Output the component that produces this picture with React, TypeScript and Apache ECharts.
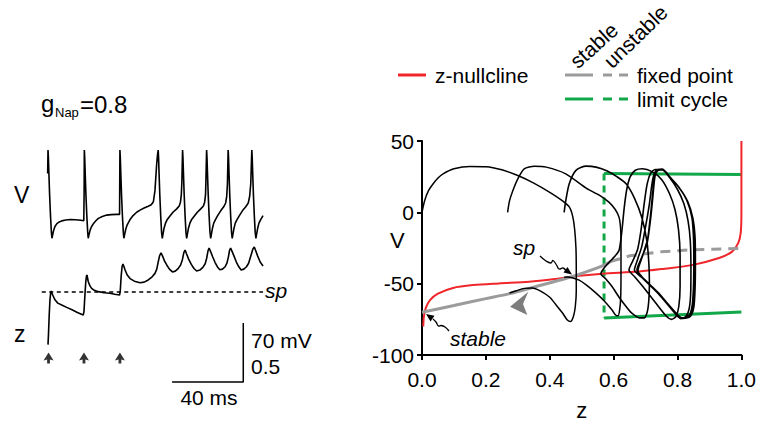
import React, { useEffect, useRef } from "react";
import * as echarts from "echarts";

const FONT = "'Liberation Sans', Arial, Helvetica, sans-serif";

// ---------- Left panel: time courses (t in ms) ----------
const vTrace: number[][] = [
  [4.3, 0], [4.5, 28], [4.7, 20], [5.0, 0], [5.4, -25], [5.9, -50], [6.4, -70], [6.7, -77], [7.0, -74], [7.6, -68], [8.4, -63], [9.5, -59.5], [10.8, -57.5], [12.2, -56.3], [14.5, -55.2], [17, -54.6], [20, -54.9], [23, -55.6], [24.6, -56.2],
  [24.8, -20], [24.9, 28], [25.1, 20], [25.4, 0], [25.8, -25], [26.3, -50], [26.8, -70], [27.1, -77], [27.5, -73], [28.2, -67], [29.0, -63], [30.2, -59], [31.5, -55.8], [32.8, -53.3], [35, -51], [37.5, -49.4], [40, -48.8], [43, -48.5], [44.7, -48.5],
  [44.9, 28], [45.1, 20], [45.4, 0], [45.8, -25], [46.3, -50], [46.8, -70], [47.1, -77], [47.5, -73], [48.2, -66], [49.0, -61], [50.5, -55], [52.3, -50], [54.3, -46], [56.2, -43.5], [58.5, -41], [60.8, -38.8], [62.5, -37], [63.7, -33.5], [64.6, -20], [65.5, 10], [66.0, 22], [66.4, 28],
  [66.6, 20], [66.9, 0], [67.3, -25], [67.8, -50], [68.3, -70], [68.7, -77], [69.1, -72], [69.7, -65], [70.5, -59], [71.4, -55], [72.8, -51], [74.7, -46], [76.8, -42], [78.2, -38.5], [78.9, -34], [79.4, -25], [79.7, -10], [79.9, 10], [80.1, 28],
  [80.3, 20], [80.6, 0], [81.0, -25], [81.5, -50], [82.0, -70], [82.4, -77], [82.8, -72], [83.4, -65], [84.2, -59], [85.1, -55], [86.5, -51], [88.4, -46], [90.3, -42], [91.8, -38.5], [92.5, -34], [93.0, -25], [93.2, -10], [93.4, 10], [93.6, 28],
  [93.8, 20], [94.1, 0], [94.5, -25], [95.0, -50], [95.5, -70], [95.9, -77], [96.3, -72], [96.9, -65], [97.6, -59], [98.5, -55], [99.8, -50], [101.6, -44], [103.2, -39.5], [104.3, -35], [104.9, -27], [105.3, -12], [105.5, 8], [105.7, 28],
  [105.9, 20], [106.2, 0], [106.6, -25], [107.1, -50], [107.6, -70], [108.0, -77], [108.4, -72], [109.0, -65], [109.7, -59], [110.6, -55], [112.0, -50], [113.8, -44], [115.6, -39.5], [117.0, -35], [117.8, -27], [118.4, -12], [118.7, 8], [119.0, 28],
  [119.2, 20], [119.5, 0], [119.9, -25], [120.4, -50], [120.9, -70], [121.3, -77], [121.7, -72], [122.3, -65], [123.0, -59], [123.9, -55], [125.3, -50],
];

const zTrace: number[][] = [
  [4.5, 0.02], [4.8, 0.12], [5.2, 0.28], [5.6, 0.4], [6.0, 0.46], [6.3, 0.475], [7.0, 0.445], [8.4, 0.4], [10, 0.372], [12.2, 0.356], [15, 0.336], [18, 0.315], [21, 0.293], [24.3, 0.271],
  [24.7, 0.3], [25.2, 0.43], [25.7, 0.55], [26.1, 0.6], [26.4, 0.61], [27.1, 0.555], [28, 0.52], [29, 0.497], [30.5, 0.48], [32.8, 0.469], [36, 0.46], [39.3, 0.455], [42, 0.447], [44.7, 0.44],
  [45.1, 0.48], [45.6, 0.6], [46.1, 0.68], [46.6, 0.703], [47.2, 0.68], [47.8, 0.653], [49, 0.61], [50.6, 0.58], [53, 0.558], [56.2, 0.545], [58.5, 0.55], [60.8, 0.568], [63, 0.595], [64.6, 0.624], [65.6, 0.66], [66.4, 0.72], [67.2, 0.775], [68.0, 0.797],
  [68.8, 0.772], [70, 0.728], [71.2, 0.695], [72.7, 0.66], [74.4, 0.636], [76, 0.643], [77.6, 0.664], [79, 0.695], [80.0, 0.74], [80.8, 0.8], [81.5, 0.822],
  [82.3, 0.79], [83.5, 0.745], [85, 0.7], [86.5, 0.665], [88, 0.644], [89.8, 0.652], [91.5, 0.675], [92.8, 0.705], [93.6, 0.75], [94.4, 0.815], [95.0, 0.839],
  [95.8, 0.81], [97, 0.765], [98.3, 0.718], [99.7, 0.678], [101, 0.655], [102.5, 0.66], [104, 0.68], [105, 0.71], [105.8, 0.76], [106.5, 0.82], [107.1, 0.839],
  [107.9, 0.81], [109, 0.77], [110.3, 0.72], [111.7, 0.68], [113, 0.653], [114.5, 0.66], [116, 0.68], [117.2, 0.71], [118.2, 0.76], [119.6, 0.83], [120.4, 0.847],
  [121.2, 0.815], [122.3, 0.77], [123.7, 0.72], [125.3, 0.686],
];

const spLevel = 0.466;
const spRange = [1, 125.3];
const stimTimes = [4.8, 24.7, 44.9];
const stimMarkerZ = -0.093;
const scaleBarMs = [74.2, 114.2];
const scaleBarZ = [-0.297, 0.203];

// ---------- Right panel: phase plane (z, V) ----------
const zTickLabels = ["0.0", "0.2", "0.4", "0.6", "0.8", "1.0"];
const vTicks = [-100, -50, 0, 50];

const zNullcline: number[][] = [
  [0.004, -80], [0.006, -73], [0.012, -67], [0.025, -61.5], [0.05, -57], [0.097, -53], [0.16, -51], [0.24, -49.8], [0.336, -48.6], [0.43, -46.3], [0.492, -44.5], [0.564, -43], [0.68, -41.5], [0.76, -39.5], [0.845, -37], [0.93, -32], [0.97, -27.7], [0.99, -21.6], [0.998, -14], [1.0, 0], [1.0, 50],
];

const fixedStable: number[][] = [
  [0, -70], [0.1, -65.3], [0.2, -60.5], [0.274, -57], [0.36, -51.8], [0.45, -46.4], [0.5, -42.8], [0.555, -38.4], [0.59, -34.5],
];
const fixedUnstable: number[][] = [
  [0.59, -34.5], [0.65, -30.5], [0.75, -27.6], [0.85, -26.2], [1.0, -25.3],
];

const cycleTop: number[][] = [[0.57, 27.2], [1.0, 26.5]];
const cycleBottom: number[][] = [[0.57, -74], [1.0, -69.8]];
const cycleUnstable: number[][] = [[0.57, 27.2], [0.57, -74]];

const traj1: number[][] = [
  [0, 0], [0.008, 8], [0.02, 15], [0.035, 20], [0.05, 24], [0.066, 27], [0.1, 30.5], [0.15, 32.2], [0.2, 32], [0.25, 29.8], [0.3, 25.8], [0.35, 20.5], [0.4, 14], [0.44, 8], [0.462, 3.5], [0.472, -3], [0.478, -12], [0.482, -25], [0.483, -40], [0.483, -55], [0.48, -66], [0.474, -73], [0.465, -76.5], [0.455, -75.5], [0.44, -70.6], [0.42, -65], [0.4, -59.5], [0.37, -55], [0.345, -53], [0.32, -53.3], [0.295, -55], [0.274, -56.5],
];
const traj2: number[][] = [
  [0.268, 0], [0.274, 8], [0.284, 15], [0.3, 23.5], [0.32, 30.5], [0.352, 32.3], [0.389, 31.7], [0.45, 27], [0.514, 17], [0.555, 12], [0.586, 7], [0.605, 2], [0.617, -3.5], [0.622, -12], [0.623, -24], [0.623, -45], [0.622, -60], [0.619, -68], [0.614, -72.5], [0.606, -72], [0.595, -68.5], [0.57, -62], [0.545, -56.6], [0.515, -51], [0.492, -47.5], [0.47, -45.8], [0.455, -45.4], [0.445, -45.5],
];
const traj3: number[][] = [
  [0.445, 0], [0.45, 8], [0.461, 20], [0.482, 29.4], [0.514, 32.4], [0.545, 31.7], [0.58, 29], [0.61, 25], [0.639, 20], [0.665, 10], [0.688, -3.5], [0.704, -20], [0.71, -35], [0.712, -50], [0.71, -62], [0.705, -70], [0.695, -74], [0.682, -74], [0.657, -70.6], [0.639, -66], [0.617, -59.5], [0.595, -52], [0.575, -46.5], [0.56, -43],
  [0.57, -39], [0.586, -35], [0.603, -31], [0.617, -26.6], [0.626, -12.6], [0.633, 3], [0.641, 16], [0.652, 25], [0.668, 29.5], [0.69, 30.5], [0.72, 28.5], [0.75, 23], [0.775, 13], [0.792, 2], [0.803, -12], [0.808, -30], [0.808, -52], [0.804, -66], [0.795, -73], [0.781, -75], [0.766, -73], [0.73, -63], [0.695, -53], [0.665, -45], [0.648, -40.5],
  [0.66, -34], [0.675, -26], [0.686, -12], [0.695, 5], [0.705, 20], [0.716, 27.5], [0.73, 30], [0.75, 30], [0.775, 24.5], [0.8, 16], [0.82, 6], [0.833, -6], [0.84, -20], [0.842, -40], [0.841, -58], [0.836, -68], [0.826, -73], [0.81, -74.5], [0.793, -71], [0.74, -57], [0.69, -46], [0.665, -40.5],
  [0.675, -33], [0.688, -24], [0.7, -10], [0.712, 6], [0.72, 20], [0.727, 27], [0.737, 30], [0.752, 30.3], [0.775, 25], [0.805, 17.5], [0.829, 8.5], [0.845, -3.5], [0.85, -17.5], [0.851, -35], [0.85, -52], [0.846, -65], [0.837, -72], [0.815, -74], [0.795, -71], [0.741, -56.6], [0.69, -45.5], [0.673, -40.5],
  [0.688, -31.5], [0.704, -22], [0.714, -5], [0.72, 8.4], [0.725, 20], [0.729, 26], [0.737, 29.8], [0.752, 30.2], [0.774, 25], [0.805, 17.3], [0.83, 8.2], [0.846, -3.5], [0.852, -17.5], [0.853, -35], [0.852, -52], [0.848, -66], [0.838, -72.5], [0.814, -74], [0.795, -70.8], [0.742, -57], [0.69, -45.8], [0.674, -40.8],
  [0.689, -31.3], [0.705, -21.5], [0.716, -4], [0.722, 9], [0.727, 21], [0.731, 26.5], [0.74, 29.5], [0.755, 29.8], [0.777, 24.5], [0.807, 16.8], [0.832, 7.5], [0.848, -4], [0.855, -18], [0.856, -36], [0.855, -53], [0.851, -66.5], [0.84, -73], [0.816, -74.3], [0.797, -71], [0.743, -57.3], [0.692, -46], [0.676, -41],
  [0.69, -31], [0.705, -20],
];

const RED = "#f0262a";
const GRAY = "#9b9b9b";
const GREEN = "#12a84a";

function txt(x: number, y: number, text: string, size: number, extra: any = {}) {
  return {
    type: "text",
    x,
    y,
    silent: true,
    ...(extra.el || {}),
    style: {
      text,
      fontSize: size,
      fontFamily: FONT,
      fill: "#000",
      align: "left",
      verticalAlign: "middle",
      ...(extra.style || {}),
    },
  };
}

function lineEl(x1: number, y1: number, x2: number, y2: number, stroke: string, dash?: number[]) {
  return {
    type: "line",
    silent: true,
    shape: { x1, y1, x2, y2 },
    style: { stroke, lineWidth: 3, lineDash: dash || null },
  };
}

export default function App() {
  const ref = useRef<HTMLDivElement>(null);

  useEffect(() => {
    if (!ref.current) return;
    const chart = echarts.init(ref.current, undefined, { renderer: "svg" });

    const baseLine = (data: number[][], color: string, width: number, axis: number, extra: any = {}) => ({
      type: "line",
      data,
      xAxisIndex: axis,
      yAxisIndex: axis,
      symbol: "none",
      silent: true,
      clip: false,
      lineStyle: { color, width, ...(extra.lineStyle || {}) },
      smooth: extra.smooth || false,
      z: extra.z || 2,
    });

    const option: any = {
      animation: false,
      backgroundColor: "#fff",
      textStyle: { fontFamily: FONT },
      grid: [
        { left: 422, top: 141, width: 321, height: 215 },
        { left: 40, top: 140, width: 231.4, height: 105 },
        { left: 40, top: 240.8, width: 231.4, height: 153.4 },
      ],
      xAxis: [
        {
          gridIndex: 0,
          type: "value",
          min: 0,
          max: 1,
          interval: 0.2,
          name: "z",
          nameLocation: "middle",
          nameGap: 44,
          nameTextStyle: { fontSize: 22, color: "#000", fontFamily: FONT },
          axisLine: { onZero: false, lineStyle: { color: "#000", width: 2 } },
          axisTick: { length: 5, lineStyle: { color: "#000", width: 2 } },
          axisLabel: {
            fontSize: 21,
            color: "#000",
            margin: 14,
            fontFamily: FONT,
            formatter: (v: number) => zTickLabels[Math.round(v / 0.2)] ?? "",
          },
          splitLine: { show: false },
        },
        { gridIndex: 1, type: "value", min: 0, max: 130, show: false },
        { gridIndex: 2, type: "value", min: 0, max: 130, show: false },
      ],
      yAxis: [
        {
          gridIndex: 0,
          type: "value",
          min: vTicks[0],
          max: vTicks[vTicks.length - 1],
          interval: 50,
          axisLine: { onZero: false, lineStyle: { color: "#000", width: 2 } },
          axisTick: { length: 5, lineStyle: { color: "#000", width: 2 } },
          axisLabel: { fontSize: 21, color: "#000", margin: 8, fontFamily: FONT },
          splitLine: { show: false },
        },
        { gridIndex: 1, type: "value", min: -85, max: 40, show: false },
        { gridIndex: 2, type: "value", min: -0.4, max: 0.9, show: false },
      ],
      series: [
        // left panel
        baseLine(vTrace, "#000", 1.6, 1),
        baseLine(zTrace, "#000", 1.6, 2),
        baseLine([[spRange[0], spLevel], [spRange[1], spLevel]], "#000", 1.5, 2, { lineStyle: { type: [4, 3.5] } }),
        baseLine(
          [[scaleBarMs[0], scaleBarZ[0]], [scaleBarMs[1], scaleBarZ[0]], [scaleBarMs[1], scaleBarZ[1]]],
          "#000",
          1.5,
          2
        ),
        {
          type: "scatter",
          xAxisIndex: 2,
          yAxisIndex: 2,
          silent: true,
          data: stimTimes.map((t) => [t, stimMarkerZ]),
          symbol: "path://M5,0L10,8L6.4,7L6.4,11L3.6,11L3.6,7L0,8Z",
          symbolSize: [10, 11],
          itemStyle: { color: "#000" },
        },
        // right panel
        baseLine(cycleTop, GREEN, 3, 0, { z: 2 }),
        baseLine(cycleBottom, GREEN, 3, 0, { z: 2 }),
        baseLine(cycleUnstable, GREEN, 3, 0, { z: 2, lineStyle: { type: [7, 5] } }),
        baseLine(zNullcline, RED, 2, 0, { z: 3, smooth: 0.3 }),
        baseLine(fixedStable, GRAY, 3, 0, { z: 3, smooth: 0.3 }),
        baseLine(fixedUnstable, GRAY, 3, 0, { z: 3, lineStyle: { type: [10, 7] } }),
        baseLine(traj1, "#000", 1.5, 0, { z: 4, smooth: 0.25 }),
        baseLine(traj2, "#000", 1.5, 0, { z: 4, smooth: 0.25 }),
        baseLine(traj3, "#000", 1.6, 0, { z: 4, smooth: 0.25 }),
      ],
      graphic: [
        // title g_Nap = 0.8
        txt(41, 103, "g", 24),
        txt(55, 112, "Nap", 13),
        txt(80, 104, "=0.8", 24),
        // left labels
        txt(14, 195, "V", 23),
        txt(14, 334, "z", 23),
        txt(265, 290, "sp", 21, { style: { fontStyle: "italic" } }),
        txt(251, 340, "70 mV", 21),
        txt(251, 366, "0.5", 21),
        txt(209, 397, "40 ms", 21, { style: { align: "center" } }),
        // phase-plane y-axis name
        txt(390, 240, "V", 22),
        // legend
        lineEl(398, 75, 426, 75, RED),
        txt(435, 75, "z-nullcline", 21),
        lineEl(565, 75, 593, 75, GRAY),
        lineEl(603, 75, 629, 75, GRAY, [9, 7]),
        txt(637, 75, "fixed point", 21),
        lineEl(565, 99, 593, 99, GREEN),
        lineEl(603, 99, 629, 99, GREEN, [9, 7]),
        txt(637, 99, "limit cycle", 21),
        txt(573, 64, "stable", 21, { el: { rotation: (42 * Math.PI) / 180 } }),
        txt(607, 64, "unstable", 21, { el: { rotation: (44 * Math.PI) / 180 } }),
        // phase-plane annotations
        txt(513, 247, "sp", 21, { style: { fontStyle: "italic" } }),
        txt(450, 338, "stable", 21, { style: { fontStyle: "italic" } }),
        {
          type: "polyline",
          silent: true,
          shape: {
            points: [[540, 256], [546, 261], [551, 263], [553, 260.5], [556.5, 265], [559, 269], [563, 268], [566, 270.5]],
            smooth: 0.4,
          },
          style: { stroke: "#000", lineWidth: 1.3, fill: null },
          z: 10,
        },
        {
          type: "polygon",
          silent: true,
          shape: { points: [[572, 274.5], [563.5, 272.6], [567.5, 267]] },
          style: { fill: "#000" },
          z: 10,
        },
        {
          type: "polyline",
          silent: true,
          shape: {
            points: [[449, 331], [445, 327], [441, 325.5], [438.5, 326], [436, 322], [433, 319]],
            smooth: 0.4,
          },
          style: { stroke: "#000", lineWidth: 1.3, fill: null },
          z: 10,
        },
        {
          type: "polygon",
          silent: true,
          shape: { points: [[426, 314], [434.5, 315.8], [430.5, 321.5]] },
          style: { fill: "#000" },
          z: 10,
        },
        {
          type: "polygon",
          silent: true,
          shape: { points: [[510, 306.7], [528.3, 291.7], [523, 304], [527.3, 315]] },
          style: { fill: "#7d7d7d" },
          z: 10,
        },
      ],
    };

    chart.setOption(option);
    return () => chart.dispose();
  }, []);

  return (
    <div
      ref={ref}
      style={{ position: "fixed", left: 0, top: 0, width: 759, height: 426, background: "#fff" }}
    />
  );
}
